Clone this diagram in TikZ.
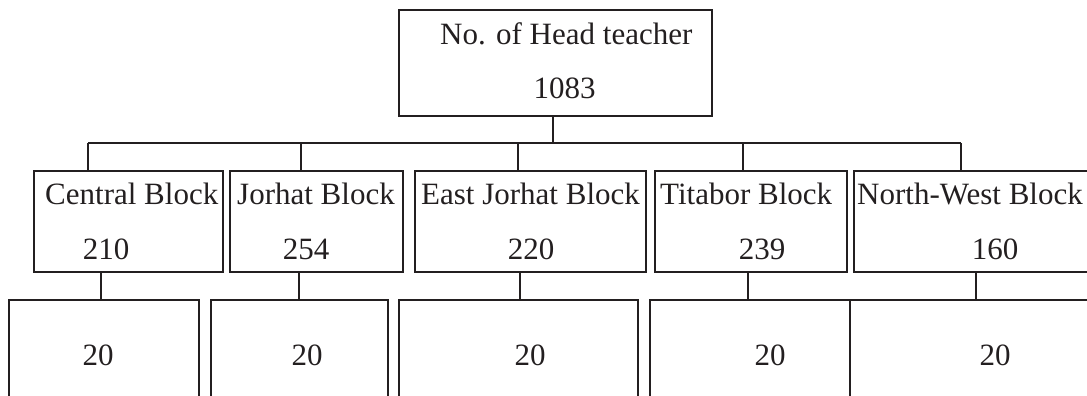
\documentclass[tikz,border=0pt]{standalone}
\usepackage{fontspec}
\setmainfont{Liberation Serif}
\begin{document}
\begin{tikzpicture}[x=1pt,y=-1pt,
  box/.style={draw=ink, line width=1.5pt, inner sep=0pt, rectangle},
  lbl/.style={inner sep=0pt, text=ink, font=\fontsize{31}{36}\selectfont},
  link/.style={draw=ink, line width=1.5pt}]
\definecolor{ink}{HTML}{231F20}
\useasboundingbox (0,0) rectangle (1087,396);
\clip (0,0) rectangle (1087,396);

% head box
\node[box, minimum width=313pt, minimum height=106pt] (head) at (555.5,63) {};
\node[lbl, anchor=base west] (headT) at (440,45) {No. of Head teacher};
\node[lbl, anchor=base] (headN) at (564.5,99) {1083};

% block boxes
\node[box, minimum width=189pt, minimum height=101pt] (cb) at (128.5,221.5) {};
\node[box, minimum width=173pt, minimum height=101pt] (jb) at (316.5,221.5) {};
\node[box, minimum width=231pt, minimum height=101pt] (eb) at (530.5,221.5) {};
\node[box, minimum width=192pt, minimum height=101pt] (tb) at (751,221.5) {};
\node[box, minimum width=246pt, minimum height=101pt] (nb) at (977,221.5) {};

\node[lbl, anchor=base west] (cbT) at (45,204) {Central Block};
\node[lbl, anchor=base west] (jbT) at (237,204) {Jorhat Block};
\node[lbl, anchor=base west] (ebT) at (421,204) {East Jorhat Block};
\node[lbl, anchor=base west] (tbT) at (660,204) {Titabor Block};
\node[lbl, anchor=base west] (nbT) at (857,204) {North-West Block};

\node[lbl, anchor=base] (cbN) at (106,259) {210};
\node[lbl, anchor=base] (jbN) at (306,259) {254};
\node[lbl, anchor=base] (ebN) at (531,259) {220};
\node[lbl, anchor=base] (tbN) at (762,259) {239};
\node[lbl, anchor=base] (nbN) at (995,259) {160};

% lower boxes
\node[box, minimum width=190pt, minimum height=120pt] (cl) at (104,360) {};
\node[box, minimum width=177pt, minimum height=120pt] (jl) at (299.5,360) {};
\node[box, minimum width=239pt, minimum height=120pt] (el) at (518.5,360) {};
\node[box, minimum width=200pt, minimum height=120pt] (tl) at (750,360) {};
\node[box, minimum width=250pt, minimum height=120pt] (nl) at (975,360) {};

\node[lbl, anchor=base] (clN) at (98,365) {20};
\node[lbl, anchor=base] (jlN) at (307,365) {20};
\node[lbl, anchor=base] (elN) at (530,365) {20};
\node[lbl, anchor=base] (tlN) at (770,365) {20};
\node[lbl, anchor=base] (nlN) at (995,365) {20};

% bus and drop points
\coordinate (busL) at (88,143);
\coordinate (busR) at (961,143);
\coordinate (dj) at (301,143);
\coordinate (de) at (518,143);
\coordinate (dt) at (743,143);
\coordinate (hs) at (553,143);

\draw[link] (busL) -- (busR);
\draw[link] (head.south -| hs) -- (hs);
\draw[link] (busL) -- (busL |- cb.north);
\draw[link] (dj) -- (dj |- jb.north);
\draw[link] (de) -- (de |- eb.north);
\draw[link] (dt) -- (dt |- tb.north);
\draw[link] (busR) -- (busR |- nb.north);

% stems from blocks to lower boxes
\coordinate (s1) at (101,0);
\coordinate (s2) at (299,0);
\coordinate (s3) at (520,0);
\coordinate (s4) at (748,0);
\coordinate (s5) at (976,0);
\draw[link] (cb.south -| s1) -- (cl.north -| s1);
\draw[link] (jb.south -| s2) -- (jl.north -| s2);
\draw[link] (eb.south -| s3) -- (el.north -| s3);
\draw[link] (tb.south -| s4) -- (tl.north -| s4);
\draw[link] (nb.south -| s5) -- (nl.north -| s5);
\end{tikzpicture}
\end{document}
